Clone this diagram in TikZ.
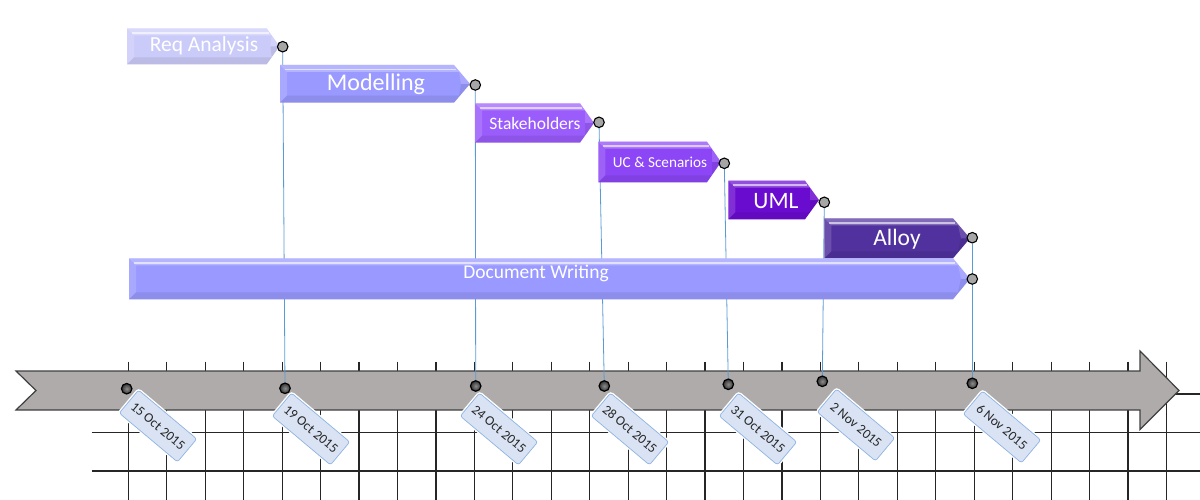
\documentclass[tikz,border=0pt]{standalone}
\usepackage{fontspec}
\setmainfont{Carlito}
\usetikzlibrary{shapes.geometric}
\definecolor{tagfill}{HTML}{DAE3F3}
\definecolor{tagline}{HTML}{8DB4E2}
\definecolor{conncol}{HTML}{5B9BD5}
\definecolor{arrowfill}{HTML}{AFABAB}
\definecolor{gridcol}{HTML}{262626}
\definecolor{cReq}{HTML}{CBCBFA}
\definecolor{cMod}{HTML}{9999FF}
\definecolor{cStk}{HTML}{9A5CFB}
\definecolor{cUC}{HTML}{8C46F6}
\definecolor{cUML}{HTML}{6A0BD0}
\definecolor{cAlloy}{HTML}{51319E}
\definecolor{cDoc}{HTML}{9999FF}
\definecolor{dotgray}{HTML}{A6A6A6}
\pgfdeclarelayer{back}
\pgfdeclarelayer{mid}
\pgfsetlayers{back,mid,main}
% #1 left, #2 top, #3 bottom, #4 head start, #5 tip, #6 colour
\newcommand\tlbar[6]{%
  \fill[#6] (#1,#2) -- (#4,#2) -- (#5,{(#2+#3)/2}) -- (#4,#3) -- (#1,#3) -- cycle;
  \fill[white,opacity=.28] (#1,#2) -- (#4,#2) -- (#4+5,#2+7) -- (#1+7,#2+7) -- cycle;
  \draw[white,opacity=.6,line width=1.8pt] (#1+5,#2+4.5) -- (#4+2,#2+4.5);
  \fill[white,opacity=.15] (#1,#2) -- (#1+7,#2+7) -- (#1+7,#3-7) -- (#1,#3) -- cycle;
  \fill[black,opacity=.08] (#1,#3) -- (#1+7,#3-7) -- (#4+5,#3-7) -- (#5-9,{(#2+#3)/2}) -- (#5,{(#2+#3)/2}) -- (#4,#3) -- cycle;
  \fill[white,opacity=.15] (#4,#2) -- (#5,{(#2+#3)/2}) -- (#5-9,{(#2+#3)/2}) -- (#4+5,#2+7) -- cycle;
}
\begin{document}
\begin{tikzpicture}[x=1pt,y=-1pt,
  bartext/.style={text=white,inner sep=0pt},
  tdot/.style={circle,draw=black,fill=dotgray,line width=1.1pt,minimum size=10.5pt,inner sep=0pt},
  tldot/.style={circle,draw=black,line width=1.2pt,minimum size=10.5pt,inner sep=0pt,inner color=black!45,outer color=black!80},
  conn/.style={draw=conncol,line width=0.8pt},
  datetag/.style={rectangle,rounded corners=2.5pt,fill=tagfill,draw=tagline,line width=0.7pt,
    minimum width=76pt,minimum height=30pt,inner sep=1pt,rotate=-40,
    font=\fontsize{13.5}{14}\selectfont,text=black!85,
    preaction={draw=white,line width=3.5pt}},
  gridline/.style={draw=gridcol,line width=1.2pt}]
\useasboundingbox (0,0) rectangle (1200,500);

\begin{pgfonlayer}{back}
  % grid
  \foreach \i in {0,...,27} {
    \draw[gridline] (128.3+38.45*\i,361.5) -- (128.3+38.45*\i,500);
  }
  \foreach \yy in {394,432.7,471} {
    \draw[gridline] (91.7,\yy) -- (1200,\yy);
  }
  % timeline arrow
  \draw[fill=arrowfill,draw=black!75,line width=1.2pt,line join=miter]
    (16,371) -- (1140,371) -- (1140,351) -- (1179,390.5) -- (1140,429.5)
    -- (1140,410) -- (16,410) -- (36,390.5) -- cycle;
\end{pgfonlayer}

% bars
\tlbar{127}{28.3}{64.3}{266.7}{279.5}{cReq}
\node[bartext,font=\fontsize{21.5}{22}\selectfont] (treq) at (204,46) {Req Analysis};
\tlbar{280}{65}{102.7}{454}{470}{cMod}
\node[bartext,font=\fontsize{24}{24}\selectfont] (tmod) at (376,84) {Modelling};
\tlbar{475}{103.3}{142.7}{580}{594}{cStk}
\node[bartext,font=\fontsize{17.5}{18}\selectfont] (tstk) at (535,123) {Stakeholders};
\tlbar{598.3}{141.7}{182.3}{707}{721}{cUC}
\node[bartext,font=\fontsize{15.2}{16}\selectfont] (tuc) at (660,162.5) {UC \& Scenarios};
\tlbar{728.3}{180.7}{219.3}{805}{819}{cUML}
\node[bartext,font=\fontsize{23.5}{24}\selectfont] (tuml) at (776,201) {UML};
\tlbar{824.3}{218.3}{258.3}{953}{970}{cAlloy}
\node[bartext,font=\fontsize{23.5}{24}\selectfont] (talloy) at (897,239) {Alloy};
\tlbar{129}{258.3}{299.3}{953}{970}{cDoc}
\node[bartext,font=\fontsize{19.5}{20}\selectfont] (tdoc) at (536,273) {Document Writing};

% dots at the end of each bar
\node[tdot] (dreq) at (282.7,46.7) {};
\node[tdot] (dmod) at (475.3,85) {};
\node[tdot] (dstk) at (599,122.3) {};
\node[tdot] (duc) at (724.3,163.3) {};
\node[tdot] (duml) at (824.3,202.3) {};
\node[tdot] (dalloy) at (972.3,237.7) {};
\node[tdot] (ddoc) at (972.3,279) {};

% dots on the timeline
\node[tldot] (t1) at (126.7,388.7) {};
\node[tldot] (t2) at (285,388.3) {};
\node[tldot] (t3) at (475.7,386) {};
\node[tldot] (t4) at (604.3,386) {};
\node[tldot] (t5) at (728.3,384.3) {};
\node[tldot] (t6) at (822.3,381.3) {};
\node[tldot] (t7) at (972.3,383.3) {};

% date tags
\node[datetag] (g1) at (158,426) {15 Oct 2015};
\node[datetag] (g2) at (311,429) {19 Oct 2015};
\node[datetag] (g3) at (499,429) {24 Oct 2015};
\node[datetag] (g4) at (630,429) {28 Oct 2015};
\node[datetag] (g5) at (758,429) {31 Oct 2015};
\node[datetag] (g6) at (856,425) {2 Nov 2015};
\node[datetag] (g7) at (1002,427) {6 Nov 2015};

% connectors
\begin{pgfonlayer}{mid}
  \draw[conn] (dreq) -- (t2);
  \draw[conn] (dmod) -- (t3);
  \draw[conn] (dstk) -- (t4);
  \draw[conn] (duc) -- (t5);
  \draw[conn] (duml) -- (t6);
  \draw[conn] (dalloy) -- (ddoc);
  \draw[conn] (ddoc) -- (t7);
\end{pgfonlayer}
\end{tikzpicture}
\end{document}
